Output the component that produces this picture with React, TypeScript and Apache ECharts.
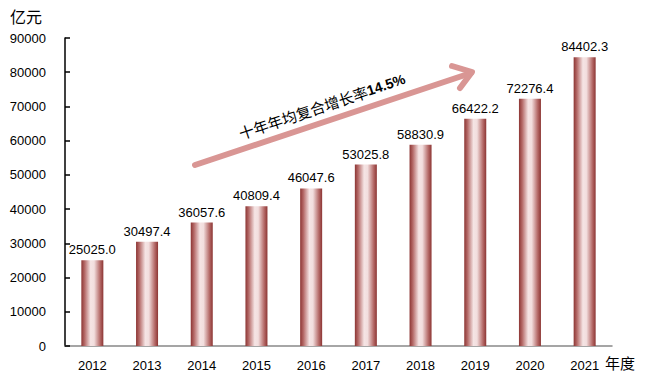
import React, { useEffect, useRef } from "react";
import * as echarts from "echarts";

const years = ["2012", "2013", "2014", "2015", "2016", "2017", "2018", "2019", "2020", "2021"];
const values = [25025.0, 30497.4, 36057.6, 40809.4, 46047.6, 53025.8, 58830.9, 66422.2, 72276.4, 84402.3];
const yMax = 90000;
const yInterval = 10000;
const unitLabel = "亿元";
const xUnitLabel = "年度";
const arrowTextMain = "十年年均复合增长率";
const arrowTextRate = "14.5%";

const FONT = "'Liberation Sans', Arial, sans-serif";
const CJK = "'Noto Sans CJK SC', sans-serif";

export default function App() {
  const ref = useRef<HTMLDivElement>(null);
  useEffect(() => {
    if (!ref.current) return;
    const chart = echarts.init(ref.current, undefined, { renderer: "svg" });
    const ang = Math.atan2(165 - 72, 473 - 195);
    chart.setOption({
      animation: false,
      backgroundColor: "#ffffff",
      grid: { left: 65, right: 35, top: 38, bottom: 39, containLabel: false },
      xAxis: {
        type: "category",
        data: years,
        axisLine: { lineStyle: { color: "#888888", width: 1.5 } },
        axisTick: { show: false },
        axisLabel: { color: "#000", fontSize: 13, fontFamily: FONT, margin: 13 },
      },
      yAxis: {
        type: "value",
        min: 0,
        max: yMax,
        interval: yInterval,
        splitLine: { show: false },
        axisLine: { show: true, lineStyle: { color: "#000", width: 1.5 } },
        axisTick: { show: true, inside: true, length: 5, lineStyle: { color: "#000", width: 1.5 } },
        axisLabel: {
          color: "#000",
          fontSize: 13,
          fontFamily: FONT,
          margin: 19,
          formatter: (v: number) => String(v),
        },
      },
      series: [
        {
          type: "bar",
          data: values,
          barWidth: 22,
          itemStyle: {
            color: new echarts.graphic.LinearGradient(0, 0, 1, 0, [
              { offset: 0, color: "#8c3533" },
              { offset: 0.15, color: "#b56a68" },
              { offset: 0.42, color: "#f5e4e4" },
              { offset: 0.58, color: "#f2dede" },
              { offset: 0.85, color: "#b56a68" },
              { offset: 1, color: "#8c3533" },
            ]),
          },
          label: {
            show: true,
            position: "top",
            distance: 4,
            color: "#000",
            fontSize: 13,
            fontFamily: FONT,
            formatter: (p: any) => Number(p.value).toFixed(1),
          },
        },
      ],
      graphic: [
        {
          type: "text",
          left: 10,
          top: 8,
          style: { text: unitLabel, fontSize: 16, fontFamily: CJK, fill: "#000" },
        },
        {
          type: "text",
          left: 605,
          top: 355,
          style: { text: xUnitLabel, fontSize: 15, fontFamily: CJK, fill: "#000" },
        },
        {
          type: "line",
          shape: { x1: 195, y1: 165, x2: 471, y2: 73 },
          style: { stroke: "#d99694", lineWidth: 6, lineCap: "round" },
        },
        {
          type: "polyline",
          shape: { points: [[452, 66], [472, 72], [460, 88]] },
          style: { stroke: "#d99694", lineWidth: 6, fill: null, lineCap: "round", lineJoin: "round" },
        },
        {
          type: "text",
          x: 322,
          y: 106,
          rotation: ang,
          style: {
            text: "{a|" + arrowTextMain + "}{b|" + arrowTextRate + "}",
            align: "center",
            verticalAlign: "middle",
            rich: {
              a: { fontSize: 15, fontFamily: CJK, fill: "#000" },
              b: { fontSize: 14, fontWeight: "bold", fontFamily: FONT, fill: "#000" },
            },
          },
        },
      ],
    });
    return () => chart.dispose();
  }, []);
  return <div ref={ref} style={{ width: 647, height: 385, position: "absolute", left: 0, top: 0 }} />;
}
